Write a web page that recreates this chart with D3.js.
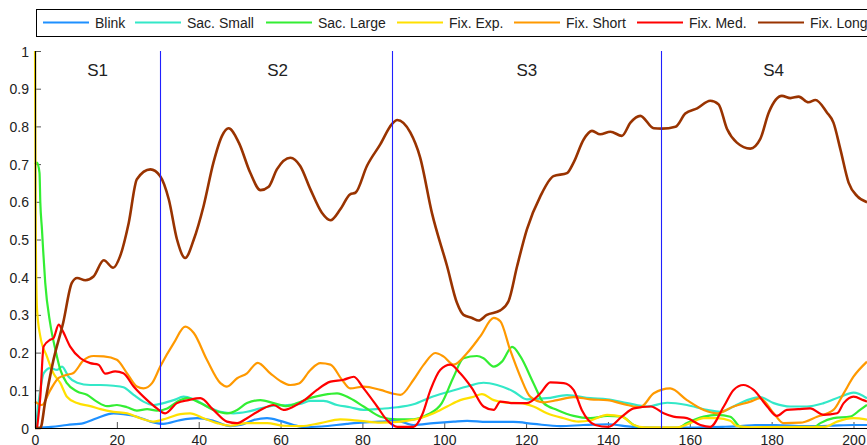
<!DOCTYPE html>
<html>
<head>
<meta charset="utf-8">
<script src="https://cdn.jsdelivr.net/npm/d3@7"></script>
<style>
  html, body { margin: 0; padding: 0; background: #fff; }
  svg { display: block; font-family: "Liberation Sans", Arial, sans-serif; }
</style>
</head>
<body>
<svg id="chart" width="867" height="445"></svg>
<script>
// ---- data -------------------------------------------------------------
const seriesNames = ["Blink", "Sac. Small", "Sac. Large", "Fix. Exp.", "Fix. Short", "Fix. Med.", "Fix. Long"];
const seriesColors = ["#1e90ff", "#33e8c8", "#33ee33", "#ffe000", "#ff9900", "#ff0000", "#993300"];

const blink = [[0,0],[4,0.003],[7.8,0.008],[11.9,0.013],[15.1,0.026],[19.2,0.039],[21.6,0.037],[24.9,0.03],[28.2,0.017],[31.4,0.011],[35.5,0.021],[39.6,0.026],[43.6,0.019],[47.7,0.005],[50.2,0.008],[53.4,0.021],[56.7,0.026],[59.9,0.019],[63.2,0.008],[66,0.002],[70,0.004],[76.2,0.011],[80.5,0.015],[84.4,0.017],[88.5,0.019],[92.5,0.008],[97.4,0.013],[102.3,0.017],[105.6,0.019],[110.4,0.016],[116.9,0.016],[121.8,0.011],[128.4,0.005],[134,0.008],[139.8,0.01],[146,0.003],[152,0.001],[160,0.001],[168,0.003],[172.4,0.005],[176,0.008],[181,0.008],[188,0.005],[194,0.006],[200,0.008],[203.3,0.008]];

const sacSmall = [[0.3,0],[0.5,0.03],[1.3,0.101],[2.1,0.145],[3.7,0.159],[5.4,0.154],[6.6,0.163],[8.2,0.136],[10.3,0.12],[13.5,0.114],[16,0.114],[19.2,0.112],[21.6,0.108],[24.1,0.088],[26.5,0.07],[29,0.061],[31.4,0.066],[33.9,0.074],[36.3,0.083],[38.8,0.076],[42,0.058],[45.3,0.043],[48.5,0.039],[51.8,0.043],[55.1,0.052],[58.3,0.059],[61.6,0.061],[64.8,0.064],[67.3,0.072],[70.5,0.072],[73.8,0.061],[77,0.055],[80.3,0.048],[84.4,0.051],[88.5,0.055],[92.5,0.063],[96.6,0.081],[100.7,0.095],[105.6,0.11],[109.6,0.12],[112.9,0.114],[116.9,0.097],[120.2,0.076],[125.1,0.079],[130,0.087],[135.7,0.079],[139.8,0.076],[144.7,0.066],[149.6,0.057],[154.5,0.067],[159.3,0.061],[164.2,0.048],[167.5,0.043],[170.7,0.057],[174,0.074],[177.2,0.082],[180.5,0.066],[184.6,0.057],[188.6,0.057],[192.7,0.066],[196.8,0.083],[200,0.094],[203.3,0.079]];

const sacLarge = [[0,0.70],[0.5,0.704],[1.1,0.677],[1.3,0.598],[1.7,0.527],[2,0.47],[2.5,0.385],[3.7,0.278],[5,0.207],[6.2,0.154],[7.8,0.119],[10.3,0.097],[12.7,0.088],[15.1,0.07],[17.6,0.058],[20,0.061],[22.5,0.055],[24.9,0.046],[27.4,0.05],[29.8,0.046],[32.3,0.052],[35.5,0.074],[37.1,0.079],[40.4,0.066],[43.6,0.048],[46.9,0.039],[49.4,0.048],[51.8,0.066],[55.1,0.074],[58.3,0.066],[61.6,0.058],[64,0.066],[67.3,0.08],[70.5,0.088],[73.8,0.092],[77,0.079],[80.3,0.057],[84.4,0.03],[88.5,0.023],[92.5,0.023],[95.8,0.035],[99.4,0.066],[102.3,0.136],[104.7,0.185],[108,0.191],[109.6,0.185],[112.1,0.163],[114.1,0.176],[116.6,0.215],[118.6,0.19],[121.8,0.119],[124.3,0.066],[127.6,0.048],[131.6,0.032],[135.7,0.026],[139.8,0.032],[143.4,0.03],[146.3,0.008],[148.7,0],[157,0],[159.3,0.013],[163.4,0.03],[166.7,0.035],[169.9,0.03],[172.4,0.003],[175,0],[190,0],[191.9,0.013],[195.1,0.026],[199.2,0.03],[201.6,0.048],[203.3,0.061]];

const fixExp = [[0,1.0],[0.2,0.5],[0.5,0.314],[1.3,0.243],[2.9,0.19],[4.5,0.145],[6.2,0.119],[7.8,0.083],[10.3,0.066],[13.5,0.058],[16,0.05],[19.2,0.043],[22.5,0.039],[25.7,0.026],[29,0.017],[32.3,0.026],[35.5,0.037],[37.9,0.039],[41.2,0.026],[44.5,0.013],[47.7,0.006],[51.8,0.013],[56.7,0.013],[60.7,0.006],[65,0.005],[69.7,0.013],[74.6,0.023],[79.5,0.019],[84.4,0.014],[89.3,0.017],[94.1,0.026],[97.4,0.039],[100.7,0.057],[103.9,0.074],[107.2,0.083],[109.2,0.09],[112.1,0.074],[115.3,0.067],[118.6,0.066],[121.8,0.057],[125.1,0.039],[129.2,0.026],[132.8,0.017],[135.7,0.02],[139.8,0.035],[143.4,0.03],[146.3,0.008],[149,0.002],[157,0.002],[160.1,0.013],[163.4,0.026],[166.7,0.026],[169.9,0.019],[171.5,0.005],[175,0.002],[193,0.003],[196,0.017],[200,0.026],[203.3,0.022]];

const fixShort = [[0,0.07],[1.7,0.061],[3.7,0.1],[5.8,0.133],[7.8,0.141],[9.4,0.146],[11.9,0.18],[14.3,0.191],[16.8,0.19],[20,0.181],[22.5,0.145],[24.9,0.11],[26.5,0.105],[28.6,0.119],[30.6,0.163],[33.9,0.225],[36.7,0.269],[38.8,0.252],[42,0.181],[45.3,0.119],[46.9,0.11],[49.4,0.132],[51.8,0.145],[54.4,0.173],[57.5,0.145],[59.9,0.125],[62.4,0.114],[64.5,0.118],[67.3,0.154],[69.7,0.172],[72.2,0.168],[75,0.128],[77,0.105],[80.3,0.11],[84.4,0.101],[87.2,0.092],[89.3,0.088],[92.5,0.128],[95,0.168],[97.8,0.199],[99.8,0.19],[102.3,0.168],[105.6,0.199],[108.8,0.243],[112.1,0.292],[113.7,0.283],[116.1,0.207],[118.6,0.136],[121,0.083],[124.3,0.068],[127.6,0.074],[131.6,0.082],[135.7,0.076],[139.8,0.074],[144.7,0.061],[147.9,0.055],[151.2,0.092],[155.2,0.105],[159.3,0.074],[163.4,0.048],[166.7,0.039],[170.7,0.057],[174.8,0.07],[177.2,0.079],[180.5,0.039],[182.9,0.013],[187,0.014],[191.1,0.03],[195.1,0.048],[197.6,0.092],[200,0.136],[203.3,0.176]];

const fixMed = [[0.5,0],[1.3,0.083],[2.1,0.216],[3.7,0.234],[4.5,0.238],[5.8,0.274],[6.6,0.261],[8.6,0.216],[11.1,0.185],[13.5,0.172],[15.5,0.168],[17.2,0.144],[19.6,0.15],[21.6,0.145],[24.1,0.11],[27.4,0.074],[29.8,0.052],[31.8,0.039],[34.7,0.066],[37.5,0.074],[40.4,0.079],[43.6,0.048],[46.9,0.017],[49.4,0.013],[51.8,0.026],[55.1,0.048],[58.3,0.061],[60.7,0.048],[63.2,0.057],[66,0.075],[68.9,0.101],[72.2,0.123],[75.4,0.128],[77.9,0.136],[80.3,0.105],[83.6,0.057],[86,0.021],[88.5,0.003],[92.5,0.003],[94.6,0.035],[96.6,0.1],[99,0.154],[101.5,0.168],[103.9,0.145],[106.8,0.105],[109.6,0.057],[112.1,0.048],[113.7,0.07],[116.9,0.066],[120.2,0.066],[123.5,0.092],[125.9,0.121],[129.2,0.119],[131.6,0.101],[133.6,0.048],[136.9,0.008],[140.1,0.003],[143.4,0.03],[146.3,0.052],[150.5,0.057],[153.6,0.039],[156,0.03],[159.3,0.026],[162.6,0.008],[165,0.003],[168.3,0.057],[170.7,0.101],[173.1,0.114],[175.6,0.101],[178.9,0.057],[181.3,0.032],[183.7,0.048],[186.5,0.05],[189.4,0.052],[192.7,0.035],[196,0.039],[197.6,0.066],[200,0.083],[202.4,0.074],[203.3,0.07]];

const fixLong = [[0,0],[1.3,0],[2.5,0.07],[4.5,0.18],[6.9,0.28],[9,0.385],[10.3,0.398],[12.3,0.392],[14.3,0.402],[16.8,0.445],[19.1,0.425],[20.8,0.456],[22.9,0.544],[24.9,0.66],[28.2,0.686],[30.6,0.668],[32.7,0.606],[34.7,0.5],[36.7,0.451],[38.8,0.5],[41.2,0.589],[43.6,0.704],[45.7,0.775],[47.3,0.795],[49.8,0.757],[52.6,0.677],[55.1,0.631],[57.1,0.64],[59.1,0.686],[62.4,0.717],[64.8,0.695],[67.3,0.633],[70.1,0.571],[72.2,0.551],[74.6,0.58],[77,0.62],[78.3,0.624],[81.1,0.695],[84.4,0.753],[87.2,0.806],[88.5,0.817],[91.7,0.784],[94.1,0.718],[97,0.57],[100.7,0.429],[103.1,0.332],[104.7,0.30],[106.8,0.292],[108.4,0.285],[110.4,0.30],[113.7,0.312],[115.7,0.336],[117.8,0.429],[120.2,0.527],[123.5,0.615],[126.7,0.668],[130,0.676],[131.6,0.704],[134.1,0.766],[136.1,0.788],[138.1,0.779],[140.6,0.786],[143.4,0.775],[145.5,0.81],[147.9,0.828],[151.2,0.795],[153.2,0.794],[156.5,0.799],[158.9,0.834],[161.8,0.848],[165,0.868],[167,0.859],[169.1,0.793],[171.5,0.757],[174.8,0.741],[177.2,0.766],[179.3,0.837],[182.5,0.881],[184.6,0.875],[186.6,0.879],[189,0.864],[190.7,0.87],[193.5,0.837],[195.1,0.81],[196.8,0.739],[198.8,0.651],[200.9,0.615],[203.3,0.599]];

const seriesData = [blink, sacSmall, sacLarge, fixExp, fixShort, fixMed, fixLong];

// stage boundaries and stage labels
const boundaries = [30.6, 87.3, 153.0];
const stageNames = ["S1", "S2", "S3", "S4"];
const stageCenters = [15.3, 59.3, 120.2, 180.5];

const xTicks = [0, 20, 40, 60, 80, 100, 120, 140, 160, 180, 200];
const yTicks = [0, 0.1, 0.2, 0.3, 0.4, 0.5, 0.6, 0.7, 0.8, 0.9, 1];

// ---- layout -----------------------------------------------------------
const W = 867, H = 445;
const plot = { left: 35, right: 867, top: 51, bottom: 428 };
const legendBox = { x: 36, y: 9, h: 27 };
const legendLineX = [43, 135, 266, 397, 514, 637, 758];
const legendLineLen = 46;
const legendTextGap = 6;

const svg = d3.select("#chart");

const x = d3.scaleLinear().domain([0, 203.3]).range([plot.left, plot.right]);
const y = d3.scaleLinear().domain([0, 1]).range([plot.bottom, plot.top]);

// axes with inward ticks
const xAxis = d3.axisBottom(x).tickValues(xTicks).tickSize(0).tickPadding(0).tickFormat(d3.format("d"));
const gx = svg.append("g").attr("transform", `translate(0,${plot.bottom})`).call(xAxis);
gx.select(".domain").remove();
gx.selectAll(".tick line").remove();
gx.selectAll(".tick").append("line").attr("y1", 0).attr("y2", -6).attr("stroke", "#555");
gx.selectAll(".tick text").attr("y", 17).attr("dy", 0)
  .attr("font-size", 14).attr("fill", "#222").attr("font-family", "Liberation Sans, Arial, sans-serif");

const yAxis = d3.axisLeft(y).tickValues(yTicks).tickSize(0).tickPadding(0).tickFormat(d => d3.format("")(+d.toFixed(1)));
const gy = svg.append("g").attr("transform", `translate(${plot.left},0)`).call(yAxis);
gy.select(".domain").remove();
gy.selectAll(".tick line").remove();
gy.selectAll(".tick").append("line").attr("x1", 0).attr("x2", 6).attr("stroke", "#555");
gy.selectAll(".tick text").attr("x", -6).attr("dy", "0.36em")
  .attr("font-size", 14).attr("fill", "#222").attr("font-family", "Liberation Sans, Arial, sans-serif");

// data lines
const line = d3.line()
  .x(d => x(d[0]))
  .y(d => y(d[1]))
  .curve(d3.curveMonotoneX);

const plotG = svg.append("g");
seriesData.forEach((data, i) => {
  plotG.append("path")
    .datum(data)
    .attr("fill", "none")
    .attr("stroke", seriesColors[i])
    .attr("stroke-width", i === 6 ? 2.6 : 2.2)
    .attr("stroke-linejoin", "round")
    .attr("d", line);
});

// stage boundary lines
svg.append("g").selectAll("line").data(boundaries).join("line")
  .attr("x1", d => Math.round(x(d)) + 0.5).attr("x2", d => Math.round(x(d)) + 0.5)
  .attr("y1", plot.top).attr("y2", plot.bottom)
  .attr("stroke", "#2020ff").attr("stroke-width", 1.1);

// stage labels
svg.append("g").selectAll("text").data(stageNames).join("text")
  .attr("x", (d, i) => x(stageCenters[i]))
  .attr("y", 76)
  .attr("text-anchor", "middle")
  .attr("font-size", 17)
  .attr("fill", "#222")
  .text(d => d);

// axis lines
svg.append("line").attr("x1", plot.left).attr("x2", plot.right)
  .attr("y1", plot.bottom + 0.5).attr("y2", plot.bottom + 0.5).attr("stroke", "#000").attr("stroke-width", 1.2);
svg.append("line").attr("x1", plot.left + 0.5).attr("x2", plot.left + 0.5)
  .attr("y1", plot.top).attr("y2", plot.bottom).attr("stroke", "#000").attr("stroke-width", 1.2);

// legend
const lg = svg.append("g");
lg.append("rect")
  .attr("x", legendBox.x + 0.5).attr("y", legendBox.y + 0.5)
  .attr("width", W + 20).attr("height", legendBox.h)
  .attr("fill", "#fff").attr("stroke", "#000").attr("stroke-width", 1);
const items = lg.selectAll("g.item").data(seriesNames).join("g").attr("class", "item");
items.append("line")
  .attr("x1", (d, i) => legendLineX[i]).attr("x2", (d, i) => legendLineX[i] + legendLineLen)
  .attr("y1", 22.5).attr("y2", 22.5)
  .attr("stroke", (d, i) => seriesColors[i]).attr("stroke-width", 2.2);
items.append("text")
  .attr("x", (d, i) => legendLineX[i] + legendLineLen + legendTextGap)
  .attr("y", 28)
  .attr("font-size", 14)
  .attr("fill", "#222")
  .text(d => d);
</script>
</body>
</html>
